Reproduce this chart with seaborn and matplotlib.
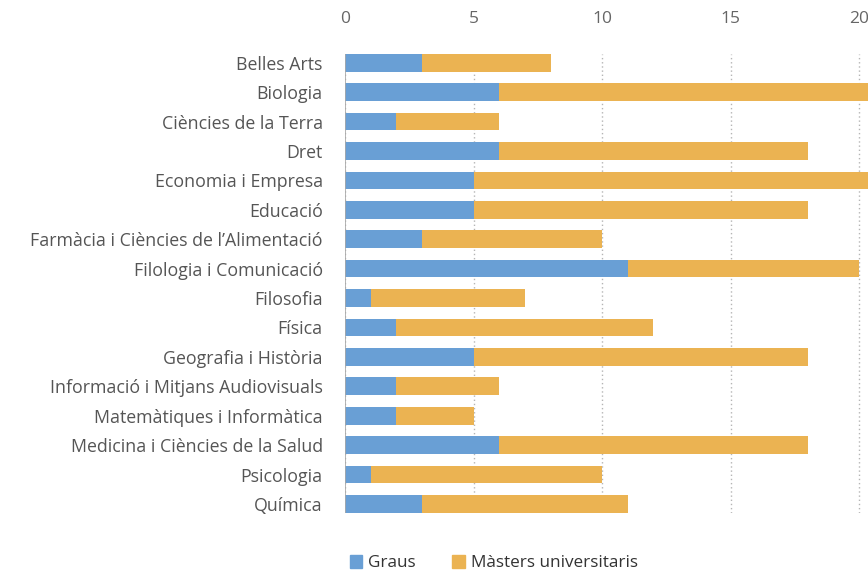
import matplotlib
matplotlib.use("Agg")
import matplotlib.pyplot as plt
from matplotlib.patches import Patch
import pandas as pd
import seaborn as sns

sns.set_style("white")
plt.rcParams['font.family'] = ['Open Sans', 'DejaVu Sans']

# data
ensenyaments = ["Belles Arts", "Biologia", "Ciències de la Terra", "Dret",
                "Economia i Empresa", "Educació",
                "Farmàcia i Ciències de l’Alimentació", "Filologia i Comunicació",
                "Filosofia", "Física", "Geografia i Història",
                "Informació i Mitjans Audiovisuals", "Matemàtiques i Informàtica",
                "Medicina i Ciències de la Salud", "Psicologia", "Química"]
graus = [3, 6, 2, 6, 5, 5, 3, 11, 1, 2, 5, 2, 2, 6, 1, 3]
masters = [5, 15, 4, 12, 17, 13, 7, 9, 6, 10, 13, 4, 3, 12, 9, 8]

df = pd.DataFrame({"ensenyament": ensenyaments, "graus": graus, "masters": masters})
df["total"] = df["graus"] + df["masters"]

blue = "#699fd5"
orange = "#ebb352"
txt = "#555555"

fig, ax = plt.subplots(figsize=(8.68, 5.73), dpi=100)
fig.subplots_adjust(left=0.3975, right=1.0, top=0.906, bottom=0.105)

# stacked bars: total first, graus over it
sns.barplot(data=df, x="total", y="ensenyament", orient="h", color=orange,
            saturation=1, width=0.6, linewidth=0, ax=ax, zorder=3)
sns.barplot(data=df, x="graus", y="ensenyament", orient="h", color=blue,
            saturation=1, width=0.6, linewidth=0, ax=ax, zorder=4)

ax.set_xlim(0, 20.35)
ax.set_ylim(15.3, -0.3)
ax.set_xticks([0, 5, 10, 15, 20])
ax.xaxis.tick_top()
ax.tick_params(axis="x", length=0, pad=19, labelsize=12.5, colors="#666666")
ax.tick_params(axis="y", length=0, pad=16, labelsize=12.8, colors=txt)
ax.set_xlabel("")
ax.set_ylabel("")
for s in ax.spines.values():
    s.set_visible(False)

# dotted gridlines and zero line
ax.grid(axis="x", linestyle=(0, (1, 2)), color="#b5b5b5", linewidth=1, zorder=1)
ax.grid(axis="y", visible=False)
ax.axvline(0, color="#a8a8a8", linewidth=1.2, zorder=5)

handles = [Patch(color=blue, label="Graus"),
           Patch(color=orange, label="Màsters universitaris")]
fig.legend(handles=handles, loc="lower left", bbox_to_anchor=(0.385, -0.024),
           ncol=2, frameon=False, fontsize=12.3, handlelength=0.75, handleheight=0.8,
           handletextpad=0.35, columnspacing=2.1, labelcolor="#333333")

plt.savefig("out.png", dpi=100)
